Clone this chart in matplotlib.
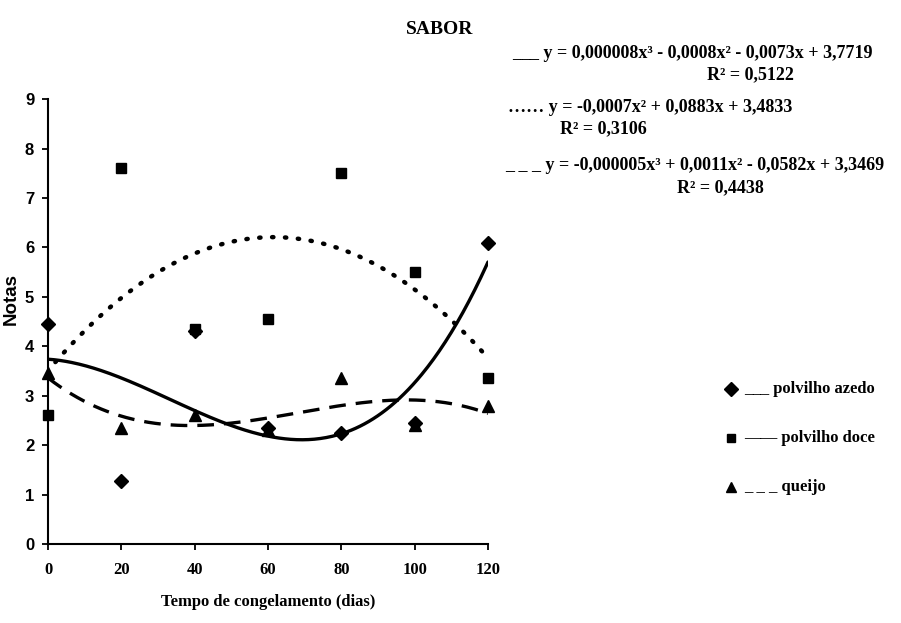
import numpy as np
import matplotlib
matplotlib.use("Agg")
import matplotlib.pyplot as plt
from matplotlib.lines import Line2D

plt.rcParams['font.family'] = ['Liberation Serif', 'DejaVu Serif']
plt.rcParams['font.weight'] = 'bold'

dias = [0, 20, 40, 60, 80, 100, 120]
polvilho_azedo = [4.45, 1.28, 4.3, 2.35, 2.25, 2.45, 6.1]
polvilho_doce = [2.6, 7.6, 4.35, 4.55, 7.5, 5.5, 3.35]
queijo = [3.45, 2.35, 2.6, 2.3, 3.35, 2.4, 2.8]

eq_azedo = "y = 0,000008x\u00b3 - 0,0008x\u00b2 - 0,0073x + 3,7719"
r2_azedo = "R\u00b2 = 0,5122"
eq_doce = "y = -0,0007x\u00b2 + 0,0883x + 3,4833"
r2_doce = "R\u00b2 = 0,3106"
eq_queijo = "y = -0,000005x\u00b3 + 0,0011x\u00b2 - 0,0582x + 3,3469"
r2_queijo = "R\u00b2 = 0,4438"

fig = plt.figure(figsize=(9.01, 6.23), dpi=100)
ax = fig.add_axes([0.0533, 0.1268, 0.4883, 0.714])

x = np.array(dias, dtype=float)
xs = np.linspace(0, 120, 300)

# trend lines (fitted through the data)
c_az = np.polyfit(x, polvilho_azedo, 3)
c_dc = np.polyfit(x, polvilho_doce, 2)
c_qj = np.polyfit(x, queijo, 3)
ax.plot(xs, np.polyval(c_az, xs), color='black', lw=2.4, solid_capstyle='round')
ax.plot(xs[5:], np.polyval(c_dc, xs[5:]), color='black', lw=3.2, linestyle=(0, (0.3, 2.6)),
        dash_capstyle='round')
ax.plot(xs, np.polyval(c_qj, xs), color='black', lw=2.4, linestyle=(0, (5, 3)))

ax.plot(x, polvilho_azedo, 'D', color='black', ms=7, ls='none', clip_on=False)
ax.plot(x, polvilho_doce, 's', color='black', ms=7, ls='none', clip_on=False)
ax.plot(x, queijo, '^', color='black', ms=8, ls='none', clip_on=False)

ax.set_xlim(0, 120)
ax.set_ylim(0, 9)
ax.set_xticks(range(0, 121, 20))
ax.set_yticks(range(0, 10))
ax.spines['top'].set_visible(False)
ax.spines['right'].set_visible(False)
for s in ['left', 'bottom']:
    ax.spines[s].set_linewidth(1.5)
ax.tick_params(axis='both', width=1.3, length=4, direction='out')
ax.tick_params(axis='x', pad=9, labelsize=12)
ax.tick_params(axis='y', pad=6, labelsize=12)
for lab in ax.get_xticklabels():
    lab.set_fontweight('bold')
for lab in ax.get_yticklabels():
    lab.set_fontweight('bold')
    lab.set_family(['Liberation Sans', 'DejaVu Sans'])

ax.set_xlabel("Tempo de congelamento (dias)", fontsize=12, fontweight='bold')
ax.xaxis.set_label_coords(0.5, -0.112)
ax.set_ylabel("Notas", fontsize=13.5, fontweight='bold',
              family=['Liberation Sans', 'DejaVu Sans'])
ax.yaxis.set_label_coords(-0.064, 0.55)
fig.text(440/901, 1 - 30/623, "SABOR", ha='center', va='center', fontsize=14, fontweight='bold')

fs = 13
fig.text(512/901, 1 - 53/623, "___ " + eq_azedo, ha='left', va='center', fontsize=fs, fontweight='bold')
fig.text(750/901, 1 - 75/623, r2_azedo, ha='center', va='center', fontsize=fs, fontweight='bold')
fig.text(508/901, 1 - 108/623, "\u2026\u2026 " + eq_doce, ha='left', va='center', fontsize=fs, fontweight='bold')
fig.text(603/901, 1 - 129/623, r2_doce, ha='center', va='center', fontsize=fs, fontweight='bold')
fig.text(505/901, 1 - 166/623, "_ _ _ " + eq_queijo, ha='left', va='center', fontsize=fs, fontweight='bold')
fig.text(720/901, 1 - 188/623, r2_queijo, ha='center', va='center', fontsize=fs, fontweight='bold')

# legend
leg_items = [('D', 7, "___ polvilho azedo", 389),
             ('s', 6, "\u2014\u2014 polvilho doce", 438),
             ('^', 7, "_ _ _ queijo", 487)]
for mk, ms, txt, yp in leg_items:
    fig.add_artist(Line2D([731/901], [1 - yp/623], marker=mk, ms=ms, color='black',
                          transform=fig.transFigure))
    fig.text(744/901, 1 - yp/623, txt, ha='left', va='center', fontsize=12, fontweight='bold')

fig.savefig("out.png", dpi=100)
